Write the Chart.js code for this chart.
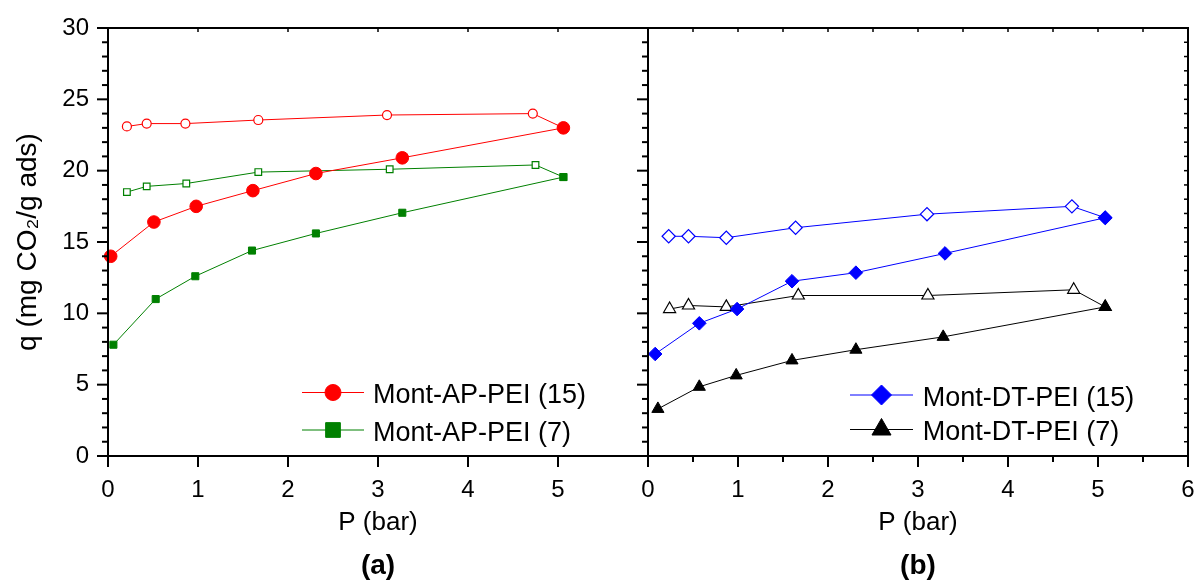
<!DOCTYPE html>
<html>
<head>
<meta charset="utf-8">
<style>
    html, body { margin: 0; padding: 0; background: #fff; }
    #wrap { position: relative; width: 1197px; height: 583px; overflow: hidden; }
    canvas { position: absolute; top: 0; }
    #panelA { left: 0; }
    #panelB { left: 600px; }
</style>
<script src="https://cdn.jsdelivr.net/npm/chart.js@4/dist/chart.umd.min.js"></script>
</head>
<body>
<div id="wrap">
    <canvas id="panelA" width="660" height="583"></canvas>
    <canvas id="panelB" width="597" height="583"></canvas>
</div>
<script>
// (a) Mont-AP-PEI, filled = adsorption, open = desorption
const AP15_ADS_P = [0.03, 0.51, 0.98, 1.61, 2.31, 3.27, 5.06];
const AP15_ADS_Q = [14.0, 16.4, 17.5, 18.6, 19.8, 20.9, 23.0];
const AP15_DES_P = [0.21, 0.43, 0.86, 1.67, 3.10, 4.72, 5.06];
const AP15_DES_Q = [23.1, 23.3, 23.3, 23.55, 23.9, 24.0, 23.0];

const AP7_ADS_P = [0.06, 0.53, 0.97, 1.60, 2.31, 3.27, 5.06];
const AP7_ADS_Q = [7.8, 11.0, 12.6, 14.4, 15.6, 17.05, 19.55];
const AP7_DES_P = [0.21, 0.43, 0.87, 1.67, 3.13, 4.75, 5.06];
const AP7_DES_Q = [18.5, 18.9, 19.1, 19.9, 20.1, 20.4, 19.55];

// (b) Mont-DT-PEI
const DT15_ADS_P = [0.08, 0.57, 0.99, 1.60, 2.31, 3.30, 5.08];
const DT15_ADS_Q = [7.15, 9.3, 10.3, 12.25, 12.85, 14.2, 16.7];
const DT15_DES_P = [0.23, 0.45, 0.87, 1.64, 3.10, 4.71, 5.08];
const DT15_DES_Q = [15.4, 15.4, 15.3, 16.0, 16.95, 17.5, 16.7];

const DT7_ADS_P = [0.11, 0.57, 0.98, 1.60, 2.31, 3.28, 5.08];
const DT7_ADS_Q = [3.3, 4.85, 5.65, 6.7, 7.45, 8.35, 10.45];
const DT7_DES_P = [0.24, 0.45, 0.87, 1.67, 3.11, 4.73, 5.08];
const DT7_DES_Q = [10.3, 10.55, 10.45, 11.25, 11.25, 11.65, 10.45];

const Y_TICK_LABELS = ['0', '5', '10', '15', '20', '25', '30'];
const X_TICK_LABELS_A = ['0', '1', '2', '3', '4', '5', ''];
const X_TICK_LABELS_B = ['0', '1', '2', '3', '4', '5', '6'];

const FONT = "'Liberation Sans', Arial, sans-serif";
Chart.defaults.font.family = FONT;
Chart.defaults.color = '#000';

function points(xs, ys) {
    return xs.map((x, i) => ({ x, y: ys[i] }));
}

function filled(label, xs, ys, color, style, radius) {
    return {
        label,
        data: points(xs, ys),
        borderColor: color,
        backgroundColor: color,
        borderWidth: 1,
        pointStyle: style,
        pointRadius: radius,
        pointBorderWidth: 1,
        pointBackgroundColor: color,
        clip: false,
    };
}

function open(xs, ys, color, style, radius) {
    return {
        label: '',
        data: points(xs, ys),
        borderColor: color,
        backgroundColor: '#fff',
        borderWidth: 1,
        pointStyle: style,
        pointRadius: radius,
        pointBorderWidth: 1.2,
        pointBackgroundColor: '#fff',
        clip: false,
    };
}

// labels may hang over the edges; keep the plot box where the layout puts it
function noEdgePadding(s) {
    s.paddingLeft = 0;
    s.paddingRight = 0;
    s.paddingTop = 0;
    s.paddingBottom = 0;
}

const axesFrame = {
    id: 'axesFrame',
    afterDatasetsDraw(chart, args, o) {
        const { ctx, chartArea: a, scales: { x, y } } = chart;
        const seg = (x1, y1, x2, y2, w) => {
            ctx.lineWidth = w;
            ctx.beginPath();
            ctx.moveTo(x1, y1);
            ctx.lineTo(x2, y2);
            ctx.stroke();
        };
        ctx.save();
        ctx.strokeStyle = '#000';

        for (let v = 0; v <= 30; v += 1) {
            const py = y.getPixelForValue(v);
            seg(a.left - (v % 5 === 0 ? 11 : 6), py, a.left, py, 2);
            if (o.right) {
                seg(a.right, py, a.right - 4, py, 1.5);
            }
        }
        for (let v = 0; v <= 6; v += 0.5) {
            const major = v % 1 === 0;
            if (!major && !o.minorX) continue;
            const px = x.getPixelForValue(v);
            seg(px, a.bottom, px, a.bottom + (major ? 11 : 6), 2);
            seg(px, a.top, px, a.top + 4, 1.5);
        }

        ctx.lineWidth = 2;
        ctx.lineCap = 'square';
        ctx.beginPath();
        ctx.moveTo(a.right, a.top);
        ctx.lineTo(a.left, a.top);
        ctx.lineTo(a.left, a.bottom);
        ctx.lineTo(a.right, a.bottom);
        if (o.right) ctx.lineTo(a.right, a.top);
        ctx.stroke();
        ctx.restore();
    },
};

const lineLegend = {
    id: 'lineLegend',
    afterDraw(chart, args, o) {
        const { ctx } = chart;
        const items = chart.data.datasets.filter((d) => d.label);
        ctx.save();
        items.forEach((d, i) => {
            const rowY = o.rows[i];
            ctx.strokeStyle = d.borderColor;
            ctx.lineWidth = 1;
            ctx.beginPath();
            ctx.moveTo(o.x0, rowY);
            ctx.lineTo(o.x1, rowY);
            ctx.stroke();
            ctx.fillStyle = d.borderColor;
            Chart.helpers.drawPoint(ctx, {
                pointStyle: d.pointStyle,
                radius: o.radii[i],
                borderWidth: 1,
                rotation: 0,
            }, (o.x0 + o.x1) / 2, rowY);
            ctx.fillStyle = '#000';
            ctx.font = `27px ${FONT}`;
            ctx.textBaseline = 'alphabetic';
            ctx.textAlign = 'left';
            ctx.fillText(d.label, o.textX, rowY + 10.5);
        });
        ctx.restore();
    },
};

function panelOptions({ xLabels, showY, yWidth, padRight, minorX, right, panel, legend }) {
    return {
        responsive: false,
        animation: false,
        events: [],
        layout: { padding: { top: 28, right: padRight, bottom: 0, left: 0 } },
        elements: { line: { tension: 0 } },
        scales: {
            x: {
                type: 'linear',
                min: 0,
                max: 6,
                grid: { display: false, drawTicks: false },
                border: { display: false },
                ticks: {
                    stepSize: 1,
                    autoSkip: false,
                    maxRotation: 0,
                    padding: 20,
                    font: { size: 24 },
                    callback: (v) => xLabels[v] ?? '',
                },
                title: {
                    display: true,
                    text: 'P (bar)',
                    font: { size: 26 },
                    padding: { top: 0, bottom: 11 },
                },
                afterFit: (s) => {
                    noEdgePadding(s);
                    s.height = 93.4;
                },
            },
            y: {
                type: 'linear',
                min: 0,
                max: 30,
                grid: { display: false, drawTicks: false },
                border: { display: false },
                ticks: {
                    display: showY,
                    stepSize: 5,
                    padding: 19,
                    font: { size: 24 },
                    callback: (v) => Y_TICK_LABELS[v / 5] ?? '',
                },
                title: {
                    display: showY,
                    text: 'q (mg CO\u2082/g ads)',
                    font: { size: 28 },
                    padding: { top: 11, bottom: 0 },
                },
                afterFit: (s) => {
                    noEdgePadding(s);
                    s.width = yWidth;
                },
            },
        },
        plugins: {
            legend: { display: false },
            tooltip: { enabled: false },
            title: {
                display: true,
                text: panel,
                position: 'bottom',
                fullSize: false,
                font: { size: 28, weight: 'bold' },
                padding: 0,
            },
            axesFrame: { right, minorX },
            lineLegend: legend,
        },
    };
}

new Chart(document.getElementById('panelA'), {
    type: 'line',
    data: {
        datasets: [
            filled('Mont-AP-PEI (15)', AP15_ADS_P, AP15_ADS_Q, '#ff0000', 'circle', 6.3),
            filled('Mont-AP-PEI (7)', AP7_ADS_P, AP7_ADS_Q, '#008000', 'rect', 5),
            open(AP15_DES_P, AP15_DES_Q, '#ff0000', 'circle', 4.5),
            open(AP7_DES_P, AP7_DES_Q, '#008000', 'rect', 4.7),
        ],
    },
    options: panelOptions({
        xLabels: X_TICK_LABELS_A,
        showY: true,
        yWidth: 108,
        padRight: 12,
        minorX: false,
        right: false,
        panel: '(a)',
        legend: { x0: 302, x1: 364, textX: 373, rows: [392.5, 430], radii: [8, 10.4] },
    }),
    plugins: [axesFrame, lineLegend],
});

new Chart(document.getElementById('panelB'), {
    type: 'line',
    data: {
        datasets: [
            filled('Mont-DT-PEI (15)', DT15_ADS_P, DT15_ADS_Q, '#0000ff', 'rectRot', 6.8),
            filled('Mont-DT-PEI (7)', DT7_ADS_P, DT7_ADS_Q, '#000000', 'triangle', 7),
            open(DT15_DES_P, DT15_DES_Q, '#0000ff', 'rectRot', 6.6),
            open(DT7_DES_P, DT7_DES_Q, '#000000', 'triangle', 7),
        ],
    },
    options: panelOptions({
        xLabels: X_TICK_LABELS_B,
        showY: false,
        yWidth: 48,
        padRight: 9,
        minorX: true,
        right: true,
        panel: '(b)',
        legend: { x0: 250, x1: 313, textX: 322.7, rows: [395, 429.5], radii: [10, 11] },
    }),
    plugins: [axesFrame, lineLegend],
});
</script>
</body>
</html>
